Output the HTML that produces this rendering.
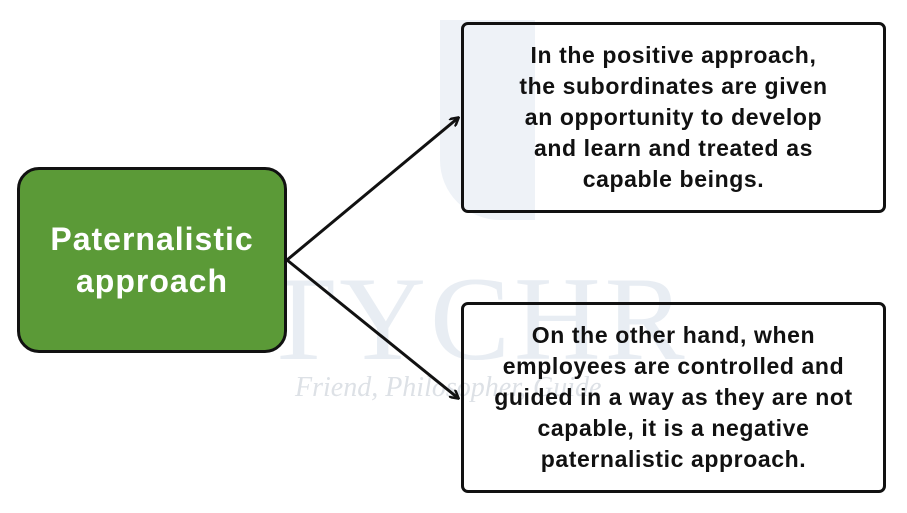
<!DOCTYPE html>
<html><head><meta charset="utf-8"><style>
html,body{margin:0;padding:0;background:#fff;width:907px;height:513px;overflow:hidden;font-family:"Liberation Sans",sans-serif;}
.wm{position:absolute;font-family:"Liberation Serif",serif;color:#e8edf3;}
.box{position:absolute;box-sizing:border-box;border:3px solid #111;border-radius:7px;background:transparent;display:flex;align-items:center;justify-content:center;text-align:center;font-weight:bold;font-size:23px;letter-spacing:0.6px;line-height:31px;color:#111;}
#g{left:17px;top:167px;width:270px;height:186px;background:#5b9a37;border-radius:22px;color:#fff;font-size:32px;letter-spacing:1px;line-height:42px;}
</style></head><body>
<div class="wm" style="left:262px;top:250px;font-size:120px;letter-spacing:4px;">TYCHR</div>
<div class="wm" style="left:295px;top:372px;font-size:28px;font-style:italic;color:#dde1e6;">Friend, Philosopher, Guide</div>
<div class="wm" style="left:440px;top:20px;width:95px;height:200px;background:#eef2f7;border-radius:0 0 0 60px;"></div>
<svg width="907" height="513" style="position:absolute;left:0;top:0">
<defs><marker id="a" markerWidth="10" markerHeight="10" refX="8" refY="5" orient="auto" markerUnits="userSpaceOnUse"><path d="M0,0 L9,5 L0,10" fill="none" stroke="#111" stroke-width="2.5"/></marker></defs>
<line x1="287" y1="260" x2="458" y2="118" stroke="#111" stroke-width="3" marker-end="url(#a)"/>
<line x1="287" y1="260" x2="458" y2="398" stroke="#111" stroke-width="3" marker-end="url(#a)"/>
</svg>
<div class="box" id="g">Paternalistic<br>approach</div>
<div class="box" style="left:461px;top:22px;width:425px;height:191px;">In the positive approach,<br>the subordinates are given<br>an opportunity to develop<br>and learn and treated as<br>capable beings.</div>
<div class="box" style="left:461px;top:302px;width:425px;height:191px;">On the other hand, when<br>employees are controlled and<br>guided in a way as they are not<br>capable, it is a negative<br>paternalistic approach.</div>
</body></html>
